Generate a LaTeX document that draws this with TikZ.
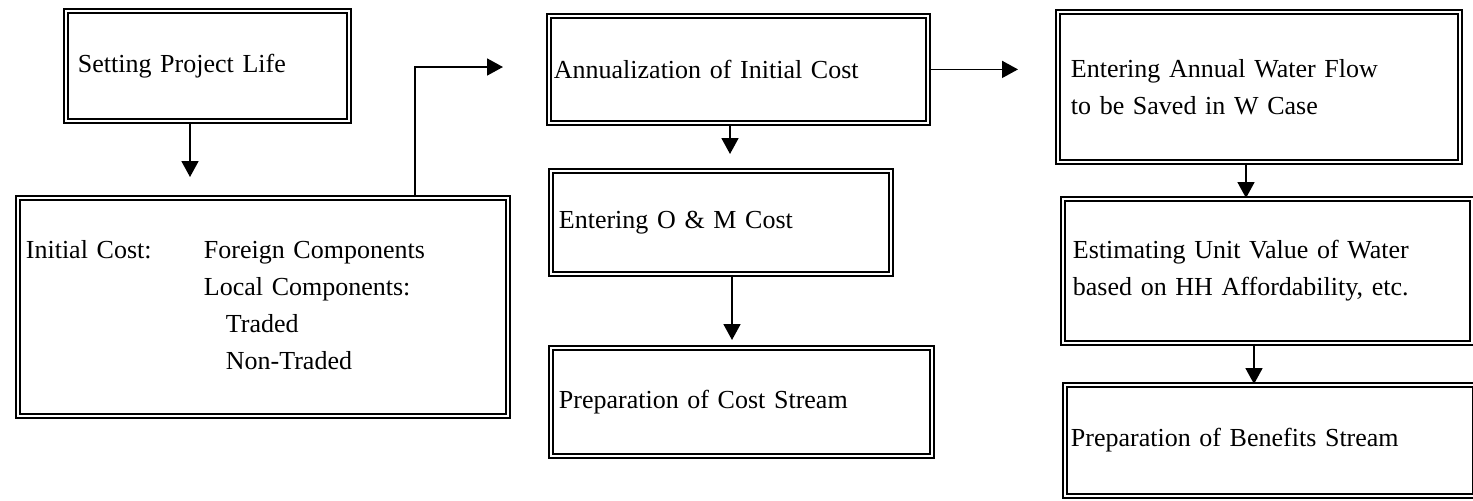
\documentclass[tikz,border=0pt]{standalone}
\usepackage{fontspec}
\setmainfont{Liberation Serif}
\usetikzlibrary{arrows.meta}
\begin{document}
\begin{tikzpicture}[x=0.5pt,y=-0.5pt]
% Styles
\tikzstyle{fleche}=[-{Triangle[length=8pt,width=8.5pt]},line width=0.9pt]
\tikzstyle{boite}=[draw,double,double distance=1pt,line width=0.9pt,anchor=north west,align=left,inner ysep=0pt,font=\fontsize{13}{18.5}\selectfont]
% Cadre
\useasboundingbox (0,0) rectangle (1473,500);
% Noeuds
\node[boite,text width=129.5pt,minimum height=55pt,inner xsep=6pt] (Vie) at (65,10) {Setting Project Life};
\node[boite,text width=237pt,minimum height=109pt,inner xsep=4pt] (Cout) at (17,197)
  {\begin{tabular}{@{}p{89pt}@{}l@{}}
   Initial Cost: & Foreign Components\\
   & Local Components:\\
   & \hspace{11pt}Traded\\
   & \hspace{11pt}Non-Traded
   \end{tabular}};
\node[boite,text width=184.5pt,minimum height=53.5pt,inner xsep=2.5pt] (Annu) at (548,15) {Annualization of Initial Cost};
\node[boite,text width=162pt,minimum height=51.5pt,inner xsep=4pt] (Entretien) at (550,170) {Entering O \& M Cost};
\node[boite,text width=182.5pt,minimum height=54pt,inner xsep=4pt] (FluxCout) at (550,347) {Preparation of Cost Stream};
\node[boite,text width=188pt,minimum height=75pt,inner xsep=6.5pt] (Eau) at (1057,11) {Entering Annual Water Flow\\to be Saved in W Case};
\node[boite,text width=194.5pt,minimum height=72pt,inner xsep=5pt] (Valeur) at (1062,198) {Estimating Unit Value of Water\\based on HH Affordability, etc.};
\node[boite,text width=199pt,minimum height=55.5pt,inner xsep=3pt] (FluxBen) at (1064,384) {Preparation of Benefits Stream};
% Points des fleches
\coordinate (Pa) at (190,177);
\coordinate (Pb) at (415,67);
\coordinate (Pc) at (503,67);
\coordinate (Pd) at (730,154);
\coordinate (Pe) at (1018,0);
\coordinate (Pf) at (732,340);
\coordinate (Pg) at (1246,0);
\coordinate (Ph) at (1254,0);
% Arcs
\draw[fleche] (Vie.south -| Pa) -- (Pa);
\draw[fleche] (Cout.north -| Pb) -- (Pb) -- (Pc);
\draw[fleche] (Annu.south -| Pd) -- (Pd);
\draw[fleche] (Annu.east) -- (Annu.east -| Pe);
\draw[fleche] (Entretien.south -| Pf) -- (Pf);
\draw[fleche] (Eau.south -| Pg) -- (Valeur.north -| Pg);
\draw[fleche] (Valeur.south -| Ph) -- (FluxBen.north -| Ph);
\end{tikzpicture}
\end{document}
